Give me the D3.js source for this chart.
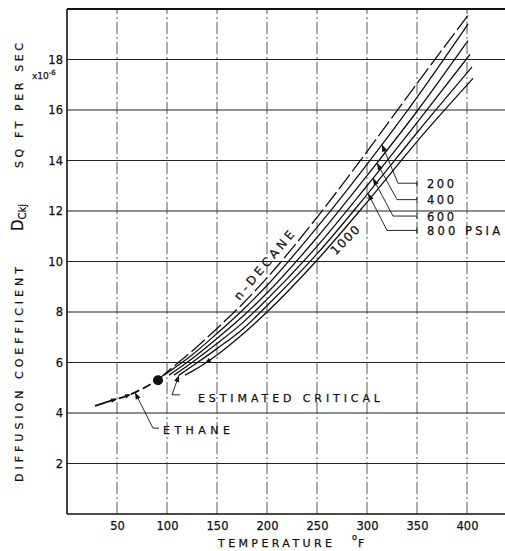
<!DOCTYPE html>
<html lang="en">
<head>
<meta charset="UTF-8" />
<script src="https://d3js.org/d3.v7.min.js"></script>
<title>Diffusion coefficient</title>
<style>
  body { margin: 0; background: #fff; }
  text { font-family: "DejaVu Sans", sans-serif; fill: #111; stroke: #111; stroke-width: 0.25px; }
</style>
</head>
<body>
<script>
var width = 505, height = 551;

var xTicks = [50, 100, 150, 200, 250, 300, 350, 400];
var yTicks = [2, 4, 6, 8, 10, 12, 14, 16, 18];

// [temperature F, D x1e-6 sq ft/sec]
var ethane = [[28, 4.28], [45, 4.5], [60, 4.68], [75, 4.95], [91, 5.3]];
var criticalPoint = [91, 5.3];
var decane = [[91, 5.3], [100, 5.62], [125, 6.45], [150, 7.35], [175, 8.3], [200, 9.35], [250, 11.75], [300, 14.35], [350, 17.05], [403, 19.85]];
var psia200 = [[97, 5.5], [125, 6.3], [150, 7.15], [175, 8.05], [200, 9.05], [250, 11.35], [300, 13.85], [350, 16.5], [401, 19.4]];
var psia400 = [[102, 5.5], [125, 6.15], [150, 6.95], [175, 7.8], [200, 8.75], [250, 10.95], [300, 13.4], [350, 15.95], [401, 18.75]];
var psia600 = [[107, 5.5], [125, 6.0], [150, 6.75], [175, 7.55], [200, 8.5], [250, 10.6], [300, 13.0], [350, 15.5], [403, 18.2]];
var psia800 = [[112, 5.5], [125, 5.85], [150, 6.55], [175, 7.3], [200, 8.25], [250, 10.3], [300, 12.65], [350, 15.1], [405, 17.7]];
var psia1000 = [[118, 5.5], [125, 5.65], [150, 6.3], [175, 7.1], [200, 8.0], [250, 10.05], [300, 12.35], [350, 14.75], [406, 17.25]];

var pressureNames = ["200", "400", "600", "800 PSIA"];
var arrowT = [315, 310, 306, 301];
var labelD = [13.1, 12.45, 11.8, 11.23];
var elbowT = [331, 330, 326, 320];
// small marks along the ethane and 1000 psia curves
var ethaneMarksT = [50, 64];
var markT1000 = 138;

var svg = d3.select("body").append("svg").attr("width", width).attr("height", height);
var x = d3.scaleLinear().domain([0, 450]).range([67, 517]);
var y = d3.scaleLinear().domain([0, 20]).range([514, 9]);

// grid
svg.append("g").selectAll("line").data(yTicks).join("line")
  .attr("x1", x(0)).attr("x2", width).attr("y1", d => y(d)).attr("y2", d => y(d))
  .attr("stroke", "#222").attr("stroke-width", 1.1);
svg.append("g").selectAll("line").data(xTicks).join("line")
  .attr("x1", d => x(d)).attr("x2", d => x(d)).attr("y1", y(0)).attr("y2", y(20))
  .attr("stroke", "#444").attr("stroke-width", 0.9).attr("stroke-dasharray", "12,3,2,3");

// frame
svg.append("line").attr("x1", x(0)).attr("x2", x(0)).attr("y1", y(20)).attr("y2", y(0)).attr("stroke", "#111").attr("stroke-width", 1.6);
svg.append("line").attr("x1", x(0)).attr("x2", width).attr("y1", y(20)).attr("y2", y(20)).attr("stroke", "#111").attr("stroke-width", 2.2);
svg.append("line").attr("x1", x(0)).attr("x2", width).attr("y1", y(0)).attr("y2", y(0)).attr("stroke", "#111").attr("stroke-width", 1.6);

// axes labels
var xa = svg.append("g").attr("transform", "translate(0," + y(0) + ")")
  .call(d3.axisBottom(x).tickValues(xTicks).tickSize(0).tickPadding(8));
xa.select(".domain").remove();
xa.selectAll("text").style("font-size", "11.5px").attr("font-family", "DejaVu Sans");
var ya = svg.append("g").attr("transform", "translate(" + (x(0) - 4) + ",0)")
  .call(d3.axisLeft(y).tickValues(yTicks).tickSize(0).tickPadding(0));
ya.select(".domain").remove();
ya.selectAll("text").style("font-size", "11.5px").attr("font-family", "DejaVu Sans");

var line = d3.line().x(d => x(d[0])).y(d => y(d[1])).curve(d3.curveMonotoneX);
var curves = svg.append("g").attr("fill", "none").attr("stroke", "#111");

var ethPath = curves.append("path").attr("d", line(ethane)).attr("stroke-width", 1.8).attr("stroke-dasharray", "22,3,9,4,9,4,9,4");
curves.append("path").attr("d", line(decane)).attr("stroke-width", 1.3).attr("stroke-dasharray", "18,4");
var pPaths = [psia200, psia400, psia600, psia800, psia1000].map(function (s) {
  return curves.append("path").attr("d", line(s)).attr("stroke-width", 1.3);
});
svg.append("circle").attr("cx", x(criticalPoint[0])).attr("cy", y(criticalPoint[1])).attr("r", 5).attr("fill", "#111");

function pointAtT(node, t) {
  var px = x(t), lo = 0, hi = node.getTotalLength();
  for (var i = 0; i < 30; i++) {
    var mid = (lo + hi) / 2;
    if (node.getPointAtLength(mid).x < px) lo = mid; else hi = mid;
  }
  return node.getPointAtLength(lo);
}
function arrowHead(tip, from, size) {
  var a = Math.atan2(tip.y - from.y, tip.x - from.x);
  var bx = tip.x - size * Math.cos(a), by = tip.y - size * Math.sin(a);
  var w = size * 0.38;
  svg.append("path")
    .attr("d", "M" + tip.x + "," + tip.y + "L" + (bx - w * Math.sin(a)) + "," + (by + w * Math.cos(a)) +
      "L" + (bx + w * Math.sin(a)) + "," + (by - w * Math.cos(a)) + "Z")
    .attr("fill", "#111");
}
var lead = svg.append("g").attr("fill", "none").attr("stroke", "#111").attr("stroke-width", 0.9);

// pressure labels
pressureNames.forEach(function (name, i) {
  var tip = pointAtT(pPaths[i].node(), arrowT[i]);
  var el = { x: x(elbowT[i]), y: y(labelD[i]) };
  lead.append("polyline").attr("points", [[tip.x, tip.y], [el.x, el.y], [x(350), el.y]].join(" "));
  lead.append("line").attr("x1", x(350)).attr("x2", x(350)).attr("y1", el.y - 3).attr("y2", el.y + 3);
  arrowHead(tip, el, 7);
  svg.append("text").attr("x", x(360)).attr("y", el.y + 4.5).style("font-size", "11.5px")
    .attr("textLength", name.length > 3 ? 73 : 27).attr("lengthAdjust", "spacing").text(name);
});

// small marks along curves
ethaneMarksT.forEach(function (t) {
  var p = pointAtT(ethPath.node(), t), q = pointAtT(ethPath.node(), t - 4);
  arrowHead(p, q, 6);
});
(function () {
  var n = pPaths[4].node(), p = pointAtT(n, markT1000), q = pointAtT(n, markT1000 + 5);
  arrowHead(p, q, 6);
})();

// estimated critical
var estTip = { x: x(psia800[0][0]), y: y(psia800[0][1]) };
var estElbow = { x: x(105), y: y(4.72) };
lead.append("polyline").attr("points", [[estTip.x, estTip.y], [estElbow.x, estElbow.y], [x(113), y(4.72)]].join(" "));
arrowHead(estTip, estElbow, 7);
svg.append("text").attr("x", x(131)).attr("y", y(4.45)).style("font-size", "11px")
  .attr("textLength", 182).attr("lengthAdjust", "spacing").text("ESTIMATED CRITICAL");

// ethane
var ethTip = pointAtT(ethPath.node(), 68);
var ethElbow = { x: x(86), y: y(3.4) };
lead.append("polyline").attr("points", [[ethTip.x, ethTip.y], [ethElbow.x, ethElbow.y], [x(92), y(3.4)]].join(" "));
arrowHead(ethTip, ethElbow, 7);
svg.append("text").attr("x", x(96)).attr("y", y(3.15)).style("font-size", "11px")
  .attr("textLength", 67).attr("lengthAdjust", "spacing").text("ETHANE");

// curve labels
svg.append("text").attr("transform", "translate(" + x(197) + "," + y(9.85) + ") rotate(-50)")
  .attr("text-anchor", "middle").attr("dy", "0.35em").style("font-size", "12px")
  .attr("textLength", 86).attr("lengthAdjust", "spacing").text("n-DECANE");
svg.append("text").attr("transform", "translate(" + x(278) + "," + y(10.85) + ") rotate(-45)")
  .attr("text-anchor", "middle").attr("dy", "0.35em").style("font-size", "12px")
  .attr("textLength", 35).attr("lengthAdjust", "spacing").text("1000");

// axis titles
svg.append("text").attr("x", 218).attr("y", 547).style("font-size", "11px")
  .attr("textLength", 114).attr("lengthAdjust", "spacing").text("TEMPERATURE");
svg.append("text").attr("x", 352).attr("y", 540).style("font-size", "8px").text("o");
svg.append("text").attr("x", 358).attr("y", 547).style("font-size", "11px").text("F");

svg.append("text").attr("transform", "translate(23,482) rotate(-90)").style("font-size", "11px")
  .attr("textLength", 215).attr("lengthAdjust", "spacing").text("DIFFUSION  COEFFICIENT");
var dl = svg.append("text").attr("transform", "translate(23,231) rotate(-90)");
dl.append("tspan").style("font-size", "15px").text("D");
dl.append("tspan").style("font-size", "10px").attr("dy", 3).text("Ckj");
svg.append("text").attr("transform", "translate(23,168) rotate(-90)").style("font-size", "11px")
  .attr("textLength", 125).attr("lengthAdjust", "spacing").text("SQ  FT  PER  SEC");
var xm = svg.append("text").attr("x", 32).attr("y", 79).style("font-size", "9px");
xm.append("tspan").text("x10");
xm.append("tspan").attr("dy", -4).style("font-size", "7px").text("-6");
</script>
</body>
</html>
